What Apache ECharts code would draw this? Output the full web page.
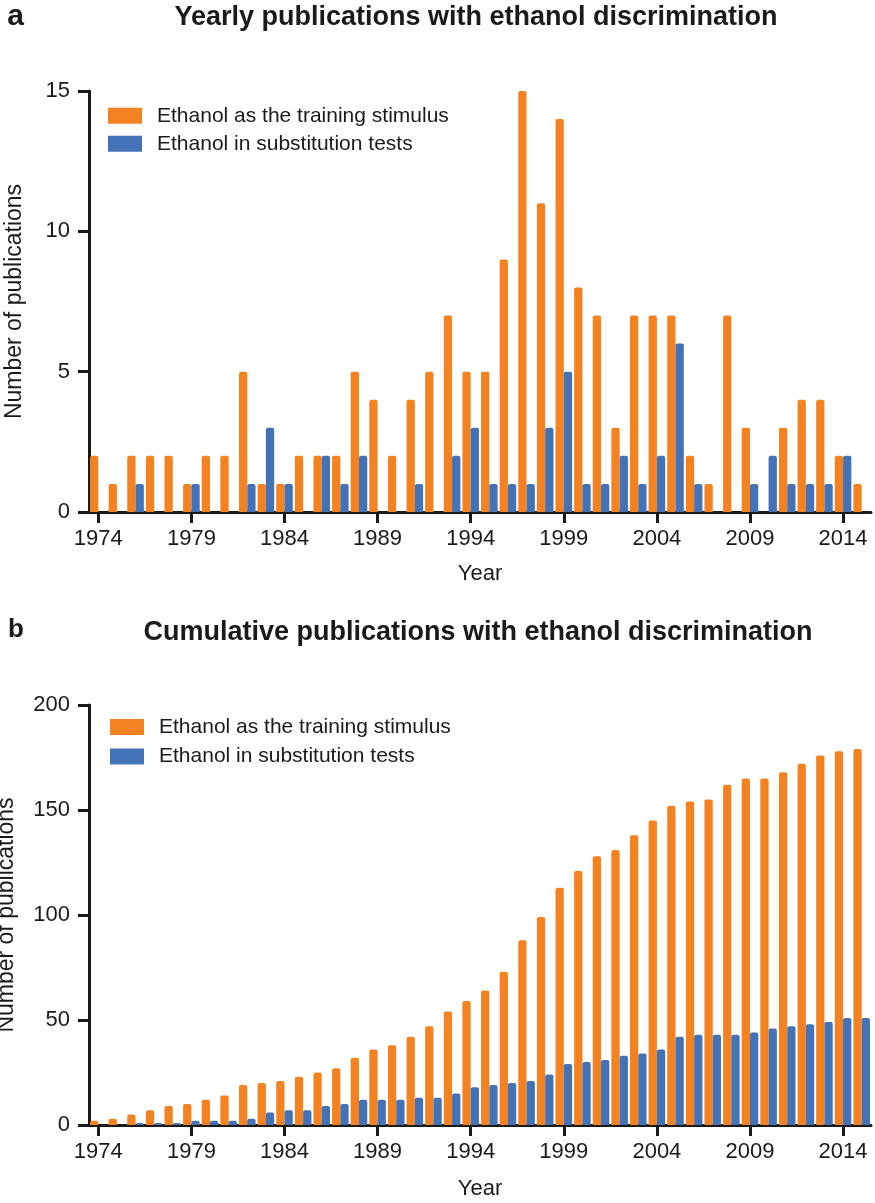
<!DOCTYPE html>
<html>
<head>
<meta charset="utf-8">
<script src="https://cdn.jsdelivr.net/npm/echarts@6/dist/echarts.min.js"></script>
<style>
html,body{margin:0;padding:0;background:#fff;}
#c{width:875px;height:1203px;}
</style>
</head>
<body>
<div id="c"></div>
<script>
const years = ['1974','1975','1976','1977','1978','1979','1980','1981','1982','1983',
  '1984','1985','1986','1987','1988','1989','1990','1991','1992','1993',
  '1994','1995','1996','1997','1998','1999','2000','2001','2002','2003',
  '2004','2005','2006','2007','2008','2009','2010','2011','2012','2013',
  '2014','2015'];
const yearlyTraining = [2,1,2,2,2,1,2,2,5,1, 1,2,2,2,5,4,2,4,5,7, 5,5,9,15,11,14,8,7,3,7, 7,7,2,1,7,3,0,3,4,4, 2,1];
const yearlySubstitution = [0,0,1,0,0,1,0,0,1,3, 1,0,2,1,2,0,0,1,0,2, 3,1,1,1,3,5,1,1,2,1, 2,6,1,0,0,1,2,1,1,1, 2,0];
const cumulativeTraining = [2,3,5,7,9,10,12,14,19,20, 21,23,25,27,32,36,38,42,47,54, 59,64,73,88,99,113,121,128,131,138, 145,152,154,155,162,165,165,168,172,176, 178,179];
const cumulativeSubstitution = [0,0,1,1,1,2,2,2,3,6, 7,7,9,10,12,12,12,13,13,15, 18,19,20,21,24,29,30,31,33,34, 36,42,43,43,43,44,46,47,48,49, 51,51];
const seriesNames = ['Ethanol as the training stimulus','Ethanol in substitution tests'];
const titleA = 'Yearly publications with ethanol discrimination';
const titleB = 'Cumulative publications with ethanol discrimination';

const ORANGE = '#F58220';
const BLUE = '#4472B6';
const INK = '#1a1a1a';
const FONT = '"Liberation Sans", Arial, Helvetica, sans-serif';

function xAx(gi, gap){
  return {
    type:'category', gridIndex:gi, data:years,
    name:'Year', nameLocation:'middle', nameGap:gap,
    nameTextStyle:{fontSize:22, color:INK, fontFamily:FONT},
    axisLine:{show:true, lineStyle:{color:INK, width:3}},
    axisTick:{show:true, alignWithLabel:true, length:11, lineStyle:{color:INK, width:3},
      interval:function(i){return i%5===0;}},
    axisLabel:{interval:function(i){return i%5===0;}, fontSize:22, color:INK, fontFamily:FONT, margin:16},
    splitLine:{show:false}
  };
}
function yAx(gi, max, interval, gap){
  return {
    type:'value', gridIndex:gi, min:0, max:max, interval:interval,
    name:'Number of publications', nameLocation:'middle', nameGap:gap, nameRotate:90,
    nameTextStyle:{fontSize:23, color:INK, fontFamily:FONT},
    axisLine:{show:true, lineStyle:{color:INK, width:3}},
    axisTick:{show:true, length:11, lineStyle:{color:INK, width:3}},
    axisLabel:{fontSize:22, color:INK, fontFamily:FONT, margin:19},
    splitLine:{show:false}
  };
}
function bar(name, data, color, xi){
  return {
    type:'bar', name:name, data:data, xAxisIndex:xi, yAxisIndex:xi,
    barGap:'0%', barCategoryGap:'11%',
    itemStyle:{color:color, borderRadius:[2,2,0,0]},
    emphasis:{disabled:true}, animation:false
  };
}
function legend(left, top, gap){
  return {
    orient:'vertical', left:left, top:top, padding:0, itemWidth:34, itemHeight:16, itemGap:gap,
    icon:'rect', selectedMode:false,
    data:seriesNames,
    textStyle:{fontSize:21, color:INK, fontFamily:FONT, padding:[0,0,0,10]}
  };
}
function titleText(x, y, text, size){
  return {type:'text', x:x, y:y, silent:true,
    style:{text:text, font:'bold '+size+'px '+FONT, fill:INK, align:'center', verticalAlign:'middle',
      textAlign:'center', textVerticalAlign:'middle'}};
}

const chart = echarts.init(document.getElementById('c'), null, {renderer:'canvas'});
chart.setOption({
  animation:false,
  backgroundColor:'#fff',
  graphic:[
    titleText(15.5, 17, 'a', 30),
    titleText(476, 17.5, titleA, 27),
    titleText(16, 630, 'b', 26),
    titleText(478, 632.5, titleB, 27)
  ],
  legend:[
    legend(108, 105.3, 7),
    legend(110, 716.5, 8.5)
  ],
  grid:[
    {left:89, right:4, top:91, height:421, containLabel:false, outerBoundsMode:'none'},
    {left:89, right:4, top:705, height:420, containLabel:false, outerBoundsMode:'none'}
  ],
  xAxis:[xAx(0, 51), xAx(1, 53)],
  yAxis:[yAx(0,15,5,63), yAx(1,200,50,71)],
  series:[
    bar(seriesNames[0], yearlyTraining, ORANGE, 0),
    bar(seriesNames[1], yearlySubstitution, BLUE, 0),
    bar(seriesNames[0], cumulativeTraining, ORANGE, 1),
    bar(seriesNames[1], cumulativeSubstitution, BLUE, 1)
  ]
});
</script>
</body>
</html>
